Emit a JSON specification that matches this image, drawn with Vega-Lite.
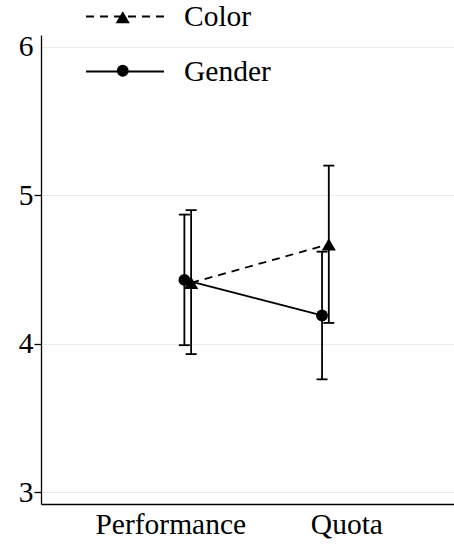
{
  "$schema": "https://vega.github.io/schema/vega-lite/v6.json",
  "width": 413,
  "height": 469,
  "autosize": "none",
  "padding": {"left": 41, "top": 35, "right": 0, "bottom": 47},
  "background": "white",
  "config": {
    "view": {"stroke": null},
    "font": "Liberation Serif"
  },
  "data": {
    "values": [
      {"condition": "Performance", "group": "Gender", "mean": 4.43, "lo": 3.99, "hi": 4.87},
      {"condition": "Performance", "group": "Color", "mean": 4.41, "lo": 3.93, "hi": 4.90},
      {"condition": "Quota", "group": "Gender", "mean": 4.19, "lo": 3.76, "hi": 4.62},
      {"condition": "Quota", "group": "Color", "mean": 4.67, "lo": 4.14, "hi": 5.20}
    ]
  },
  "encoding": {
    "x": {
      "field": "condition",
      "type": "ordinal",
      "scale": {"type": "point", "padding": 1.058, "align": 0.533},
      "axis": {
        "title": null,
        "ticks": false,
        "grid": false,
        "labelAngle": 0,
        "domainColor": "black",
        "domainWidth": 1.3,
        "labelFont": "Liberation Serif",
        "labelFontSize": 29.5,
        "labelColor": "black",
        "labelPadding": 6,
        "labelOffset": {"condition": {"test": "datum.value === 'Performance'", "value": -17.5}, "value": 21}
      }
    },
    "xOffset": {
      "field": "group",
      "type": "nominal",
      "scale": {"type": "point", "domain": ["Gender", "Color"], "range": [-6.75, 6.75]}
    }
  },
  "layer": [
    {
      "mark": {"type": "rule", "color": "black", "strokeWidth": 1.8},
      "encoding": {
        "y": {
          "field": "lo",
          "type": "quantitative",
          "scale": {"domain": [2.92, 6.08], "nice": false, "zero": false},
          "axis": {
            "title": null,
            "values": [3, 4, 5, 6],
            "format": "d",
            "grid": true,
            "gridColor": "#ebebeb",
            "gridWidth": 1,
            "domainColor": "black",
            "domainWidth": 1.3,
            "tickColor": {"condition": {"test": "datum.value == 6", "value": "transparent"}, "value": "black"},
            "tickSize": 7,
            "tickWidth": 1.3,
            "labelFont": "Liberation Serif",
            "labelFontSize": 29.5,
            "labelColor": "black",
            "labelPadding": 1
          }
        },
        "y2": {"field": "hi"}
      }
    },
    {
      "mark": {"type": "tick", "orient": "horizontal", "color": "black", "size": 11, "thickness": 1.8, "opacity": 1},
      "encoding": {"y": {"field": "lo", "type": "quantitative"}}
    },
    {
      "mark": {"type": "tick", "orient": "horizontal", "color": "black", "size": 11, "thickness": 1.8, "opacity": 1},
      "encoding": {"y": {"field": "hi", "type": "quantitative"}}
    },
    {
      "mark": {"type": "line", "color": "black", "strokeWidth": 1.8},
      "encoding": {
        "y": {"field": "mean", "type": "quantitative"},
        "strokeDash": {
          "field": "group",
          "type": "nominal",
          "scale": {"domain": ["Color", "Gender"], "range": [[8, 6], [1, 0]]},
          "legend": {
            "title": null,
            "orient": "none",
            "direction": "vertical",
            "legendX": 44,
            "legendY": -58.5,
            "padding": 0,
            "symbolType": "stroke",
            "symbolSize": 6084,
            "symbolStrokeWidth": 1.8,
            "symbolStrokeColor": "black",
            "labelFont": "Liberation Serif",
            "labelFontSize": 29.5,
            "labelColor": "black",
            "labelOffset": 19,
            "rowPadding": -2.5
          }
        }
      }
    },
    {
      "transform": [{"calculate": "datum.group + ' '", "as": "marker"}],
      "mark": {"type": "point", "filled": true, "color": "black", "opacity": 1},
      "encoding": {
        "y": {"field": "mean", "type": "quantitative"},
        "shape": {
          "field": "marker",
          "type": "nominal",
          "scale": {"domain": ["Color ", "Gender "], "range": ["triangle-up", "circle"]},
          "legend": {
            "title": null,
            "orient": "none",
            "direction": "vertical",
            "legendX": 67,
            "legendY": -32.5,
            "padding": 0,
            "symbolFillColor": "black",
            "symbolStrokeColor": "black",
            "symbolStrokeWidth": 0,
            "symbolOpacity": 1,
            "labelFont": "Liberation Serif",
            "labelFontSize": 29.5,
            "labelOpacity": 0,
            "rowPadding": 22.5
          }
        },
        "size": {
          "field": "marker",
          "type": "nominal",
          "scale": {"domain": ["Color ", "Gender "], "range": [200, 140]}
        }
      }
    }
  ]
}
